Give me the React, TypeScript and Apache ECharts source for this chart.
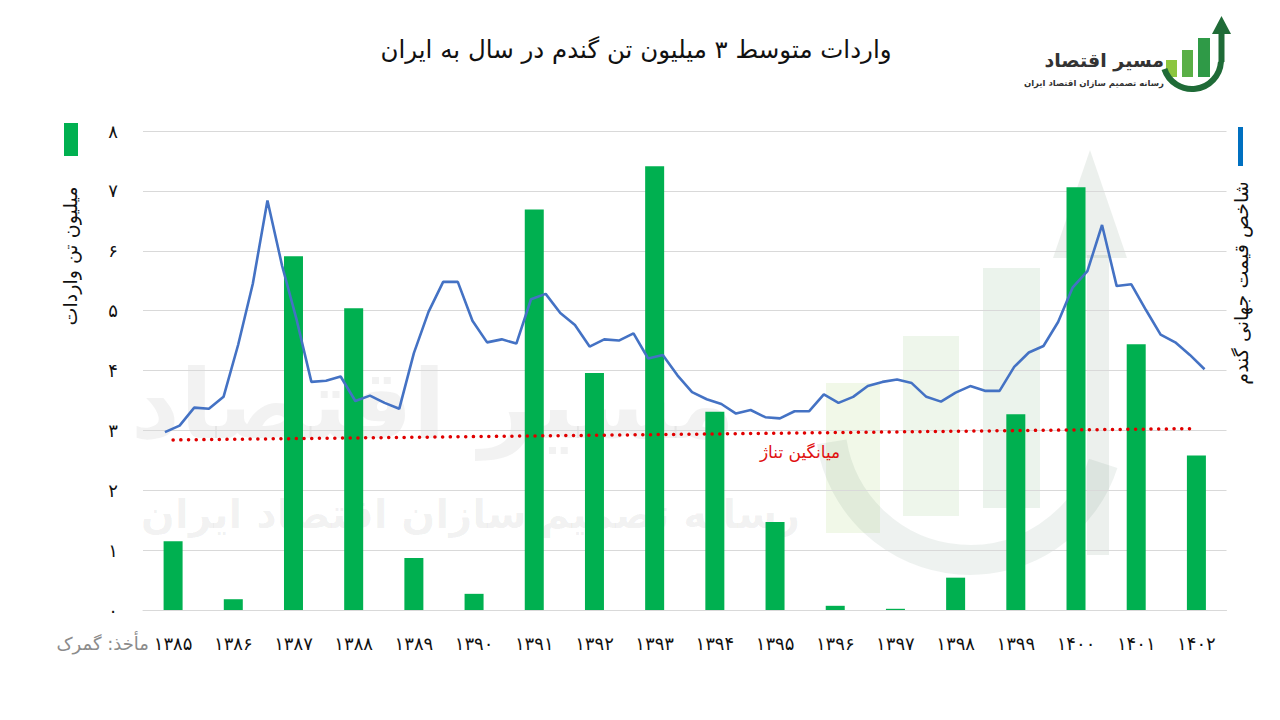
import React, { useEffect, useRef } from "react";
import * as echarts from "echarts";

// ---- data ----
const years = ["۱۳۸۵", "۱۳۸۶", "۱۳۸۷", "۱۳۸۸", "۱۳۸۹", "۱۳۹۰", "۱۳۹۱", "۱۳۹۲", "۱۳۹۳", "۱۳۹۴", "۱۳۹۵", "۱۳۹۶", "۱۳۹۷", "۱۳۹۸", "۱۳۹۹", "۱۴۰۰", "۱۴۰۱", "۱۴۰۲"];
// million tonnes of wheat imports per year
const imports = [1.15, 0.18, 5.91, 5.04, 0.87, 0.27, 6.69, 3.96, 7.41, 3.31, 1.47, 0.07, 0.02, 0.54, 3.27, 7.06, 4.44, 2.58];
// world wheat price index (quarterly, drawn on the hidden secondary axis)
const priceIndex = [
  2.97, 3.08, 3.38, 3.36, 3.56, 4.43, 5.45, 6.84, 5.75, 4.84, 3.81, 3.83,
  3.9, 3.49, 3.58, 3.46, 3.36, 4.29, 4.98, 5.48, 5.48, 4.83, 4.47, 4.52,
  4.45, 5.19, 5.28, 4.96, 4.76, 4.4, 4.52, 4.5, 4.62, 4.2, 4.26, 3.92,
  3.64, 3.52, 3.44, 3.28, 3.34, 3.22, 3.2, 3.32, 3.32, 3.6, 3.46, 3.56,
  3.74, 3.81, 3.85, 3.79, 3.56, 3.48, 3.63, 3.74, 3.66, 3.66, 4.06, 4.3,
  4.41, 4.81, 5.39, 5.66, 6.43, 5.41, 5.44, 5.01, 4.6, 4.47, 4.26, 4.02,
];
// average tonnage trend line: first and last year
const trendStart = 2.84;
const trendEnd = 3.03;
const yTickLabels = ["۰", "۱", "۲", "۳", "۴", "۵", "۶", "۷", "۸"];

const FONT = "DejaVu Sans";

export default function App() {
  const ref = useRef<HTMLDivElement>(null);

  useEffect(() => {
    if (!ref.current) return;
    const chart = echarts.init(ref.current, null, { renderer: "svg" });

    const trend = years.map((_, i) => (i === 0 ? trendStart : i === years.length - 1 ? trendEnd : null));
    const lineData = priceIndex.map((v, i) => [i, v]);

    const wm = "rgba(60,60,60,0.065)";

    chart.setOption({
      animation: false,
      backgroundColor: "#fff",
      textStyle: { fontFamily: FONT },
      grid: { left: 143, right: 53.5, top: 131, bottom: 110 },
      xAxis: [
        {
          type: "category",
          data: years,
          axisLine: { show: true, lineStyle: { color: "#d9d9d9", width: 1 } },
          axisTick: { show: false },
          axisLabel: { color: "#111", fontSize: 18, margin: 24, fontFamily: FONT, interval: 0 },
        },
        {
          type: "value",
          min: -1.5,
          max: 72.5,
          show: false,
        },
      ],
      yAxis: [
        {
          type: "value",
          min: 0,
          max: 8,
          interval: 1,
          axisLine: { show: false },
          axisTick: { show: false },
          splitLine: { lineStyle: { color: "#d9d9d9", width: 1 } },
          axisLabel: {
            color: "#111",
            fontSize: 18,
            margin: 30,
            align: "center",
            fontFamily: FONT,
            formatter: (v: number) => yTickLabels[Math.round(v)] ?? "",
          },
        },
        { type: "value", min: 0, max: 8, show: false, splitLine: { show: false } },
      ],
      graphic: [
        // watermark (faint background logo)
        {
          type: "group",
          z: -10,
          silent: true,
          children: [
            { type: "text", x: 735, y: 405, style: { text: "مسیر اقتصاد", fontFamily: FONT, fontSize: 96, fontWeight: "bold", fill: wm, align: "right", verticalAlign: "middle" } },
            { type: "text", x: 800, y: 514, style: { text: "رسانه تصمیم سازان اقتصاد ایران", fontFamily: FONT, fontSize: 40, fontWeight: "bold", fill: wm, align: "right", verticalAlign: "middle" } },
            { type: "rect", shape: { x: 826, y: 383, width: 54, height: 150 }, style: { fill: "rgba(140,198,63,0.12)" } },
            { type: "rect", shape: { x: 903, y: 336, width: 56, height: 180 }, style: { fill: "rgba(100,170,70,0.11)" } },
            { type: "rect", shape: { x: 983, y: 268, width: 57, height: 240 }, style: { fill: "rgba(60,140,70,0.10)" } },
            { type: "rect", shape: { x: 1087, y: 255, width: 22, height: 300 }, style: { fill: "rgba(40,90,60,0.09)" } },
            { type: "polygon", shape: { points: [[1053, 258], [1127, 258], [1090, 150]] }, style: { fill: "rgba(40,90,60,0.09)" } },
            { type: "arc", shape: { cx: 970, cy: 420, r: 140, startAngle: 0.1 * Math.PI, endAngle: 0.95 * Math.PI }, style: { stroke: "rgba(40,90,60,0.08)", lineWidth: 30, fill: "none" } },
          ],
        },
        // title
        { type: "text", x: 636, y: 49, style: { text: "واردات متوسط ۳ میلیون تن گندم در سال به ایران", fontFamily: FONT, fontSize: 24.5, fill: "#111", align: "center", verticalAlign: "middle" } },
        // logo top right
        {
          type: "group",
          children: [
            { type: "text", x: 1164, y: 60, style: { text: "مسیر اقتصاد", fontFamily: FONT, fontSize: 19, fontWeight: "bold", fill: "#333", align: "right", verticalAlign: "middle" } },
            { type: "text", x: 1164, y: 83, style: { text: "رسانه تصمیم سازان اقتصاد ایران", fontFamily: FONT, fontSize: 8.5, fontWeight: "bold", fill: "#333", align: "right", verticalAlign: "middle" } },
            { type: "rect", shape: { x: 1166, y: 60, width: 11, height: 17 }, style: { fill: "#8cc63f" } },
            { type: "rect", shape: { x: 1182, y: 50, width: 11, height: 27 }, style: { fill: "#5aaf46" } },
            { type: "rect", shape: { x: 1198, y: 38, width: 12, height: 39 }, style: { fill: "#2f9a47" } },
            { type: "arc", shape: { cx: 1192, cy: 60, r: 29, startAngle: 0.02 * Math.PI, endAngle: 0.9 * Math.PI }, style: { stroke: "#1f6b37", lineWidth: 6, fill: "none" } },
            { type: "rect", shape: { x: 1218.5, y: 30, width: 6, height: 32 }, style: { fill: "#1f6b37" } },
            { type: "polygon", shape: { points: [[1212, 34], [1231, 34], [1221.5, 16]] }, style: { fill: "#1f6b37" } },
          ],
        },
        // legend markers and axis names
        { type: "rect", shape: { x: 64, y: 123, width: 14, height: 33 }, style: { fill: "#00b050" } },
        { type: "rect", shape: { x: 1238, y: 127, width: 5, height: 39 }, style: { fill: "#0070c0" } },
        { type: "text", x: 70, y: 256, rotation: Math.PI / 2, style: { text: "میلیون تن واردات", fontFamily: FONT, fontSize: 19, fill: "#111", align: "center", verticalAlign: "middle" } },
        { type: "text", x: 1241, y: 283, rotation: Math.PI / 2, style: { text: "شاخص قیمت جهانی گندم", fontFamily: FONT, fontSize: 19, fill: "#111", align: "center", verticalAlign: "middle" } },
        // source
        { type: "text", x: 149, y: 643, style: { text: "مأخذ: گمرک", fontFamily: FONT, fontSize: 18, fill: "#8c8c8c", align: "right", verticalAlign: "middle" } },
        // trend label
        { type: "text", x: 800, y: 452, style: { text: "میانگین تناژ", fontFamily: FONT, fontSize: 17, fill: "#e01010", align: "center", verticalAlign: "middle" } },
      ],
      series: [
        {
          type: "bar",
          data: imports,
          barWidth: 19,
          itemStyle: { color: "#00b050" },
          z: 2,
        },
        {
          type: "line",
          xAxisIndex: 1,
          yAxisIndex: 1,
          data: lineData,
          symbol: "none",
          lineStyle: { color: "#4472c4", width: 2.6 },
          z: 3,
        },
        {
          type: "line",
          data: trend,
          connectNulls: true,
          symbol: "none",
          lineStyle: { color: "#e00000", width: 3.5, type: [0.1, 7.6], cap: "round" },
          z: 4,
        },
      ],
    });

    return () => chart.dispose();
  }, []);

  return <div ref={ref} style={{ position: "fixed", left: 0, top: 0, width: 1280, height: 720 }} />;
}
